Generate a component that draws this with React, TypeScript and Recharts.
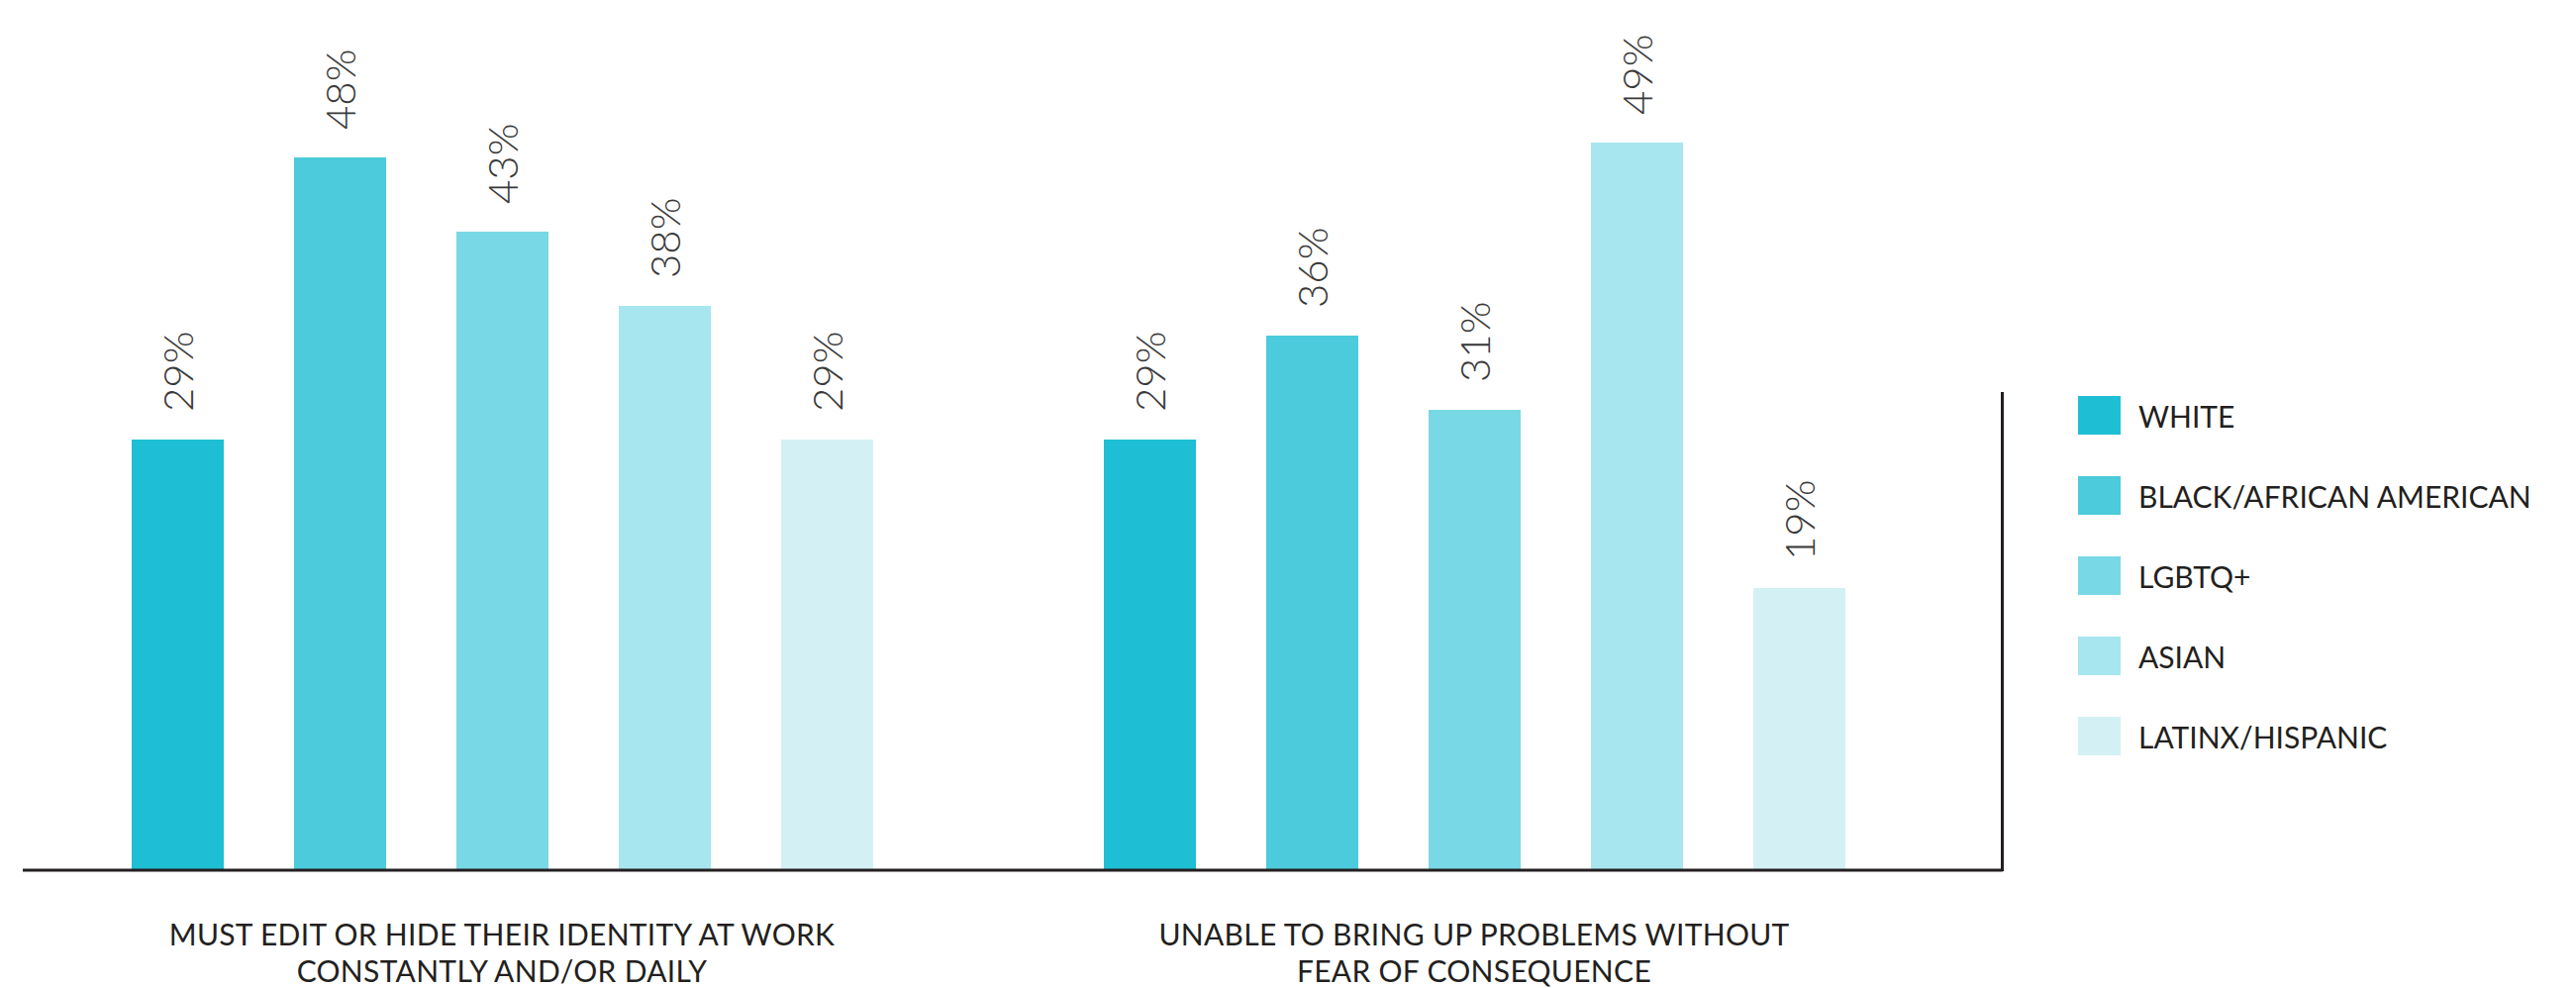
import { Bar, BarChart, LabelList, Legend, XAxis, YAxis } from "recharts";

const categories = ["identity", "problems"];
const categoryLines = [
  ["MUST EDIT OR HIDE THEIR IDENTITY AT WORK", "CONSTANTLY AND/OR DAILY"],
  ["UNABLE TO BRING UP PROBLEMS WITHOUT", "FEAR OF CONSEQUENCE"],
];

const groupNames = [
  "WHITE",
  "BLACK/AFRICAN AMERICAN",
  "LGBTQ+",
  "ASIAN",
  "LATINX/HISPANIC",
];
const groupColors = ["#1ebfd4", "#4bcbdb", "#79d8e5", "#a7e6ee", "#d3f1f5"];

const white = [29, 29];
const black = [48, 36];
const lgbtq = [43, 31];
const asian = [38, 49];
const latinx = [29, 19];

const seriesValues = [white, black, lgbtq, asian, latinx];
const seriesKeys = ["white", "black", "lgbtq", "asian", "latinx"];

const data = categories.map((c, i) => {
  const row: Record<string, string | number> = { category: c };
  seriesKeys.forEach((k, s) => {
    row[k] = seriesValues[s][i];
  });
  return row;
});

const FONT = "Lato, 'Open Sans', sans-serif";

const renderBarLabel = (props: any) => {
  const x = Number(props.x);
  const y = Number(props.y);
  const w = Number(props.width);
  const cx = x + w / 2;
  const ty = y - 28;
  return (
    <text
      x={cx}
      y={ty}
      transform={`rotate(-90 ${cx} ${ty})`}
      textAnchor="start"
      dy="0.36em"
      fontSize={42}
      fontWeight={300}
      fill="#3a3a3a"
      fontFamily={FONT}
    >
      {props.value}%
    </text>
  );
};

const CategoryTick = (props: any) => {
  const { x, y, payload } = props;
  const lines = categoryLines[categories.indexOf(payload.value)] || [];
  return (
    <text
      x={x}
      y={y}
      textAnchor="middle"
      fontSize={30}
      letterSpacing={0.3}
      fill="#231f20"
      fontFamily={FONT}
    >
      {lines.map((l, i) => (
        <tspan key={i} x={x} y={y + 76 + i * 37}>
          {l}
        </tspan>
      ))}
    </text>
  );
};

const renderLegend = (props: any) => {
  // keep the series order, not the alphabetical one
  const payload = [...(props.payload || [])].sort(
    (a: any, b: any) => groupNames.indexOf(a.value) - groupNames.indexOf(b.value)
  );
  return (
    <div
      style={{
        borderLeft: "3px solid #231f20",
        height: 484,
        boxSizing: "border-box",
        paddingLeft: 75,
        paddingTop: 4,
        fontFamily: FONT,
      }}
    >
      {payload.map((entry: any, i: number) => (
        <div
          key={i}
          style={{
            display: "flex",
            alignItems: "center",
            height: 39,
            marginBottom: 42,
          }}
        >
          <div
            style={{ width: 43, height: 39, background: entry.color }}
          />
          <span
            style={{
              marginLeft: 18,
              fontSize: 30,
              color: "#231f20",
              whiteSpace: "nowrap",
            }}
          >
            {entry.value}
          </span>
        </div>
      ))}
    </div>
  );
};

export default function App() {
  return (
    <div style={{ position: "absolute", left: 0, top: 0, background: "#fff" }}>
      <BarChart
        width={2602}
        height={998}
        data={data}
        margin={{ top: 129, right: 579, bottom: 0, left: 23 }}
        barSize={93}
        barGap={71}
      >
        <XAxis
          dataKey="category"
          height={119}
          padding={{ left: -7, right: 43 }}
          axisLine={{ stroke: "#231f20", strokeWidth: 3 }}
          tickLine={false}
          tickSize={0}
          tickMargin={0}
          tick={<CategoryTick />}
          interval={0}
        />
        <YAxis hide domain={[0, 50]} />
        <Legend
          layout="vertical"
          align="center"
          verticalAlign="middle"
          content={renderLegend}
          wrapperStyle={{ left: 2021, top: 396, width: 581, height: 484 }}
        />
        {seriesKeys.map((k, s) => (
          <Bar
            key={k}
            dataKey={k}
            name={groupNames[s]}
            fill={groupColors[s]}
            isAnimationActive={false}
          >
            <LabelList dataKey={k} content={renderBarLabel} />
          </Bar>
        ))}
      </BarChart>
    </div>
  );
}
